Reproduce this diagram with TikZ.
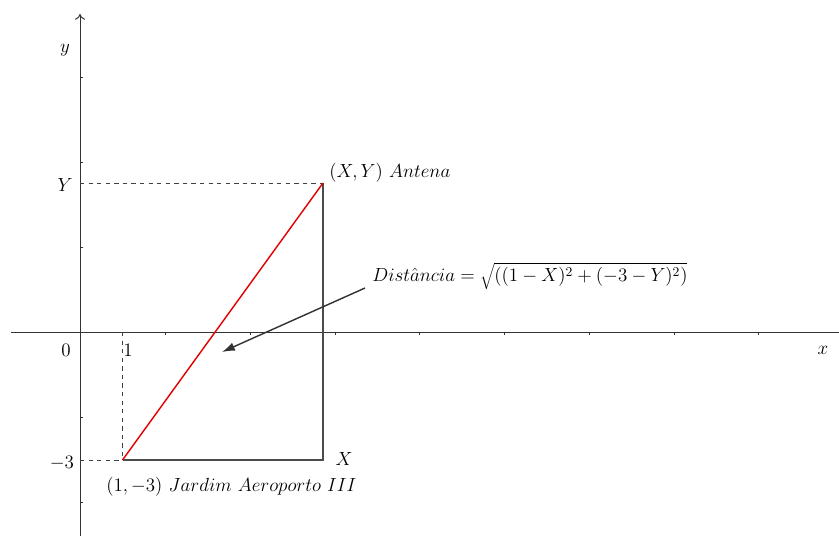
\RequirePackage{fix-cm}
\documentclass[tikz,border=0pt]{standalone}
\usetikzlibrary{arrows.meta}
\begin{document}
\begin{tikzpicture}[x=0.7pt,y=-0.7pt]
\useasboundingbox (0,0) rectangle (839,536);
\tikzset{
  axis/.style={line width=0.7pt, black!80},
  tickmark/.style={line width=0.6pt, black!80},
  guide/.style={dashed, black!75, line width=0.6pt},
  boxline/.style={black!70, line width=1pt},
  lbl/.style={inner sep=0pt, font=\fontsize{13.3}{16}\selectfont},
}
\coordinate (O) at (80,332);
\coordinate (A) at (122.5,460);
\coordinate (B) at (323,183);
\coordinate (C) at (323,460);
\coordinate (YA) at (80,183);
\coordinate (YB) at (80,460);
\coordinate (XA) at (122.5,332);
\coordinate (xl) at (11,332);
\coordinate (xr) at (839,332);
\coordinate (yb) at (80,536);
\coordinate (yt) at (80,14);
\coordinate (arrS) at (365,288);
\coordinate (arrE) at (222,352);
% axes
\draw[axis] (xl) -- (xr);
\draw[axis,-{To[length=4pt,width=7pt]}] (yb) -- (yt);
\foreach \t in {165,250,335,419,504,589,674,758} \draw[tickmark] (\t,332) -- (\t,335);
\foreach \t in {77,162,247,417,502} \draw[tickmark] (80,\t) -- (83,\t);
% guides
\draw[guide] (YA) -- (B);
\draw[guide] (YB) -- (A);
\draw[guide] (XA) -- (A);
% rectangle
\draw[boxline] (A) -- (C) -- (B);
% red segment
\draw[red!90!black, line width=1pt] (A) -- (B);
% arrow
\draw[black!80, line width=1pt, -{Latex[length=9pt,width=6pt]}] (arrS) -- (arrE);
% labels
\node[lbl] (ly) at (65,50) {$y$};
\node[lbl] (lx) at (823,350) {$x$};
\node[lbl] (lY) at (65,185) {$Y$};
\node[lbl] (l0) at (66,350) {$0$};
\node[lbl] (l1) at (128,350) {$1$};
\node[lbl] (lm3) at (62,463) {$-3$};
\node[lbl] (lX) at (344,459) {$X$};
\node[lbl, anchor=west] (lant) at (329,173) {$(X,Y)\ Antena$};
\node[lbl, anchor=west] (ldist) at (372,276) {$Dist\hat{a}ncia = \sqrt{((1-X)^2+(-3-Y)^2)}$};
\node[lbl, anchor=west] (ljar) at (106,487) {$(1,-3)\ Jardim\ Aeroporto\ III$};
\end{tikzpicture}
\end{document}
